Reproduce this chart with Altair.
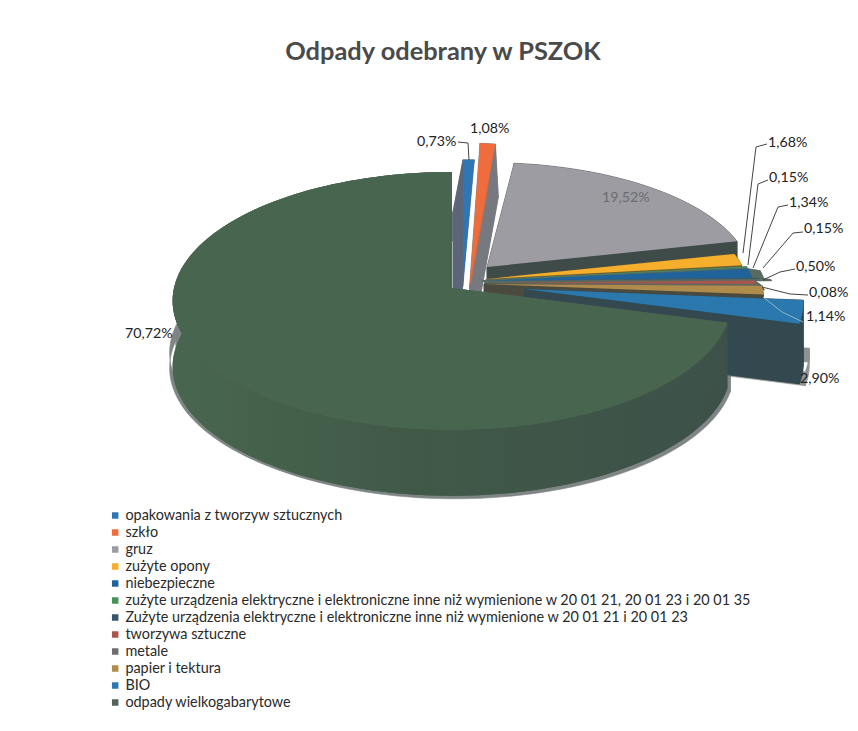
import math
import altair as alt
import pandas as pd

TITLE = "Odpady odebrany w PSZOK"
categories = ["opakowania z tworzyw sztucznych", "szkło", "gruz", "zużyte opony", "niebezpieczne",
              "zużyte urządzenia elektryczne i elektroniczne inne niż wymienione w 20 01 21, 20 01 23 i 20 01 35",
              "Zużyte urządzenia elektryczne i elektroniczne inne niż wymienione w 20 01 21 i 20 01 23",
              "tworzywa sztuczne", "metale", "papier i tektura", "BIO", "odpady wielkogabarytowe"]
values = [0.73, 1.08, 19.52, 1.68, 1.34, 0.15, 0.15, 0.50, 0.08, 1.14, 2.90, 70.72]
top_colors = ["#2f76b5", "#ef6d3c", "#9c9ca2", "#f6ae2d", "#1f639a", "#46905a", "#34566f",
              "#a8564d", "#6e6e6e", "#b08c4c", "#2a78ad", "#55625a"]
wall_colors = ["#5c6678", "#767a80", "#3f4b49", "#6f5f30", "#5a6b60", "#5a6b60", "#5a6b60",
               "#5a6b60", "#5a6b60", "#4a4a40", "#33494f", "#3f5645"]
GREEN_TOP = "#48664f"
ORANGE_SHADE = "#d4693c"
# pie order around the circle, clockwise from 12 o'clock (indexes into categories)
pie_order = [0, 1, 2, 3, 5, 4, 6, 7, 8, 9, 10, 11]

# drawing geometry of each slice: apex x, apex y, x scale, y scale, depth dx, depth dy
geometry = {
    0: (463, 285, 0.98, 1.08, -10, 52),
    1: (469.5, 287, 0.90, 1.24, 3, 53),
    2: (487, 267, 0.945, 0.90, 0, 60),
    3: (487, 279, 0.935, 0.88, 0, 12),
    5: (485, 280, 0.96, 0.86, 0, 12),
    4: (482, 281, 0.975, 0.84, 12, 2),
    6: (482, 281, 1.0, 0.84, 12, 2),
    7: (484, 283, 0.975, 0.90, 6, 4),
    8: (484, 284, 0.985, 0.90, 6, 4),
    9: (484, 284, 1.0, 0.95, 0, 13),
    10: (524, 289, 1.0, 1.0, 0, 60),
    11: (452, 288, 1.0, 1.0, 0, 66),
}
A, B, K = 278.0, 127.6, 0.10

label_text = ["0,73%", "1,08%", "19,52%", "1,68%", "0,15%", "1,34%", "0,15%", "0,50%", "0,08%", "1,14%", "2,90%", "70,72%"]
label_x = [417, 470, 602, 768, 769, 789, 804, 796, 809, 806, 800, 125]
label_y = [142, 129, 198, 143, 178, 203, 229, 267, 293, 317, 379, 334]
label_col = ["#222222"] * 2 + ["#6c6c70"] + ["#222222"] * 9

leaders = [
    [(458, 142), (468, 143), (469, 160)],
    [(767, 144), (756, 147), (743, 253)],
    [(768, 180), (758, 184), (748, 265)],
    [(788, 205), (778, 207), (753, 268)],
    [(803, 232), (793, 233), (763, 268)],
    [(795, 269), (780, 272), (763, 280)],
    [(808, 295), (790, 294), (762, 287)],
]
leader_light = [[(803, 322), (782, 312), (763, 297)]]


def wedge(idx, start, end):
    ax, ay, sx, sy, _, _ = geometry[idx]
    n = max(2, int((end - start) / 2) + 2)
    rim = []
    for i in range(n):
        t = math.radians(start + (end - start) * i / (n - 1))
        u, v = math.sin(t), math.cos(t)
        w = 1 + K * v
        rim.append((ax + sx * A * u / w, ay - sy * B * v / w))
    return (ax, ay), rim


def shift(pts, d):
    return [(p[0] + d[0], p[1] + d[1]) for p in pts]


def lerp(p, q, t, dx=0):
    return (p[0] + (q[0] - p[0]) * t + dx, p[1] + (q[1] - p[1]) * t)


walls, green_wall, tops = [], [], []
pid = [0]


def add(rows, pts, **kw):
    pid[0] += 1
    for i, p in enumerate(pts):
        rows.append({"pid": pid[0], "i": i, "x": p[0], "y": p[1], **kw})


def sweep(rows, apex, rim, d0, d1, color):
    for a, b in [(rim, rim[::-1]), ([apex, rim[0]], [rim[0], apex]), ([apex, rim[-1]], [rim[-1], apex])]:
        add(rows, shift(a, d0) + shift(b, d1), c=color)


total = sum(values)
shapes = {}
ang = 0.0
for idx in pie_order:
    end = ang + values[idx] / total * 360
    shapes[idx] = wedge(idx, ang, end)
    ang = end

# soft scan shadows under the two deepest slices
sweep(walls, *shapes[10], (6, 48), (6, 62), "#8f9290")
sweep(walls, *shapes[11], (3, 40), (3, 69), "#7f8485")
sweep(walls, *shapes[11], (-3, 52), (-3, 67), "#7f8485")
for idx in pie_order[:-1]:
    apex, rim = shapes[idx]
    d = (geometry[idx][4], geometry[idx][5])
    add(walls, shift([apex] + rim, d), c=wall_colors[idx])
    sweep(walls, apex, rim, (0, 0), d, wall_colors[idx])
g_apex, g_rim = shapes[11]
g_d = (geometry[11][4], geometry[11][5])
add(green_wall, shift([g_apex] + g_rim, g_d))
sweep(green_wall, g_apex, g_rim, (0, 0), g_d, wall_colors[11])
for idx in pie_order:
    apex, rim = shapes[idx]
    add(tops, [apex] + rim, cat=categories[idx])

X = alt.X("x:Q", axis=None, scale=alt.Scale(domain=[8, 850], nice=False, zero=False))
Y = alt.Y("y:Q", axis=None, scale=alt.Scale(domain=[723, 8], nice=False, zero=False))

wall_layer = alt.Chart(pd.DataFrame(walls)).mark_line(filled=True, strokeWidth=0.6, interpolate="linear-closed").encode(
    x=X, y=Y, order="i:Q", detail="pid:N",
    fill=alt.Fill("c:N", scale=None), stroke=alt.Stroke("c:N", scale=None))

wall_gradient = alt.LinearGradient(gradient="linear", x1=0, x2=1, y1=0, y2=0,
                                   stops=[alt.GradientStop(color="#48664f", offset=0),
                                          alt.GradientStop(color="#405947", offset=0.45),
                                          alt.GradientStop(color="#3d5149", offset=1)])
green_wall_layer = alt.Chart(pd.DataFrame(green_wall)).mark_line(
    filled=True, fill=wall_gradient, strokeWidth=0, interpolate="linear-closed").encode(
    x=X, y=Y, order="i:Q", detail="pid:N")

top_layer = alt.Chart(pd.DataFrame(tops)).mark_line(filled=True, strokeWidth=0, interpolate="linear-closed").encode(
    x=X, y=Y, order="i:Q", detail="pid:N",
    fill=alt.Fill("cat:N", sort=None,
                  scale=alt.Scale(domain=categories, range=top_colors),
                  legend=alt.Legend(title=None, orient="none", legendX=100, legendY=499, symbolType="square",
                                    symbolSize=42, symbolStrokeWidth=0, labelFont="Lato", labelFontSize=14.4,
                                    labelColor="#2a2a2a", labelLimit=800, rowPadding=0, clipHeight=17,
                                    labelOffset=3, padding=0)))

green_top = [{"i": i, "x": p[0], "y": p[1]} for i, p in enumerate([g_apex] + g_rim)]
green_top_layer = alt.Chart(pd.DataFrame(green_top)).mark_line(
    filled=True, fill=GREEN_TOP, strokeWidth=0, interpolate="linear-closed").encode(x=X, y=Y, order="i:Q")

s_apex, s_rim = shapes[1]
s_end = s_rim[-1]
shade_pts = [s_apex, lerp(s_apex, s_end, 0.83), lerp(s_apex, s_end, 0.64, 1), lerp(s_apex, s_end, 0.05, 1)]
shade_layer = alt.Chart(pd.DataFrame([{"i": i, "x": p[0], "y": p[1]} for i, p in enumerate(shade_pts)])).mark_line(
    filled=True, fill=ORANGE_SHADE, strokeWidth=0, interpolate="linear-closed").encode(x=X, y=Y, order="i:Q")

lead_rows = []
for j, pts in enumerate(leaders):
    for i, p in enumerate(pts):
        lead_rows.append({"k": j, "i": i, "x": p[0], "y": p[1]})
lead_layer = alt.Chart(pd.DataFrame(lead_rows)).mark_line(color="#444444", strokeWidth=1).encode(
    x=X, y=Y, order="i:Q", detail="k:N")
light_rows = [{"k": 0, "i": i, "x": p[0], "y": p[1]} for i, p in enumerate(leader_light[0])]
light_layer = alt.Chart(pd.DataFrame(light_rows)).mark_line(color="#8fb6c8", strokeWidth=1).encode(
    x=X, y=Y, order="i:Q", detail="k:N")

text_layer = alt.Chart(pd.DataFrame({"t": label_text, "x": label_x, "y": label_y, "c": label_col})).mark_text(
    align="left", baseline="middle", font="Lato", fontSize=14.2).encode(
    x=X, y=Y, text="t:N", color=alt.Color("c:N", scale=None))

chart = alt.layer(wall_layer, green_wall_layer, top_layer, green_top_layer, shade_layer,
                  lead_layer, light_layer, text_layer).properties(
    width=842, height=715,
    padding=0,
    autosize=alt.AutoSizeParams(type="none"),
    title=alt.TitleParams(TITLE, font="Lato", fontSize=25.4, fontWeight="bold", color="#4a4a4a",
                          anchor="middle", dx=14, dy=61),
).configure_view(stroke=None)

chart.save("out.html", embed_options={"renderer": "svg", "actions": False})
